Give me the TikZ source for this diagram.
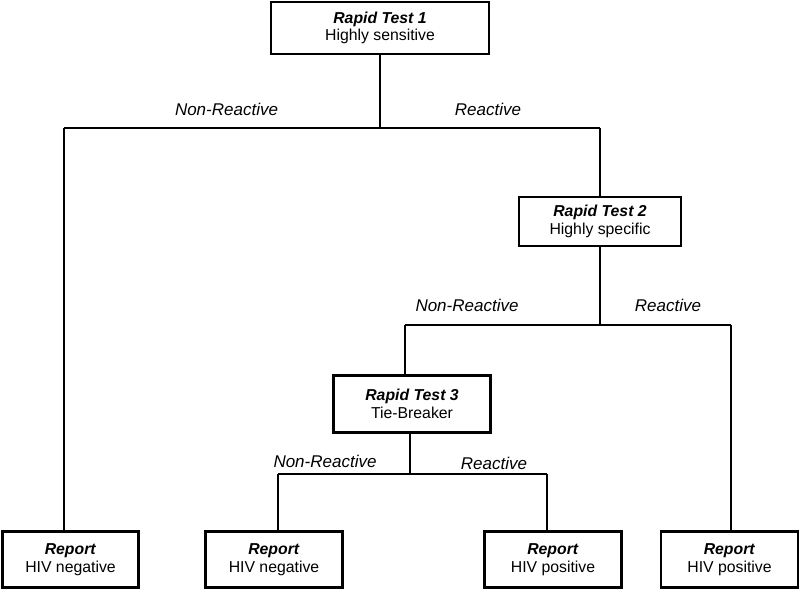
\documentclass[tikz,border=0pt]{standalone}
\usepackage{fontspec}
\setmainfont{Liberation Sans}
\begin{document}
\begin{tikzpicture}[x=1pt,y=-1pt,
  every node/.style={font=\fontsize{15.8}{17.5}\selectfont},
  box/.style={draw,line width=2.8pt,align=center,inner sep=0pt,fill=white},
  conn/.style={line width=2.6pt},
  lab/.style={font=\fontsize{17}{19}\selectfont\itshape,inner sep=0pt}]
\useasboundingbox (0,0) rectangle (800,589);
% boxes
\node[box,minimum width=218pt,minimum height=52pt] (b1) at (380,28) {\textbf{\textit{Rapid Test 1}}\\Highly sensitive};
\node[box,minimum width=162pt,minimum height=49pt] (b2) at (600,221.5) {\textbf{\textit{Rapid Test 2}}\\Highly specific};
\node[box,minimum width=157pt,minimum height=57pt] (b3) at (412,404) {\textbf{\textit{Rapid Test 3}}\\Tie-Breaker};
\node[box,minimum width=136pt,minimum height=56pt] (ra) at (70.5,559.5) {\textbf{\textit{Report}}\\HIV negative};
\node[box,minimum width=137pt,minimum height=56pt] (rb) at (274,559.5) {\textbf{\textit{Report}}\\HIV negative};
\node[box,minimum width=137pt,minimum height=56pt] (rc) at (553,559.5) {\textbf{\textit{Report}}\\HIV positive};
\node[box,minimum width=137pt,minimum height=56pt] (rd) at (729.5,559.5) {\textbf{\textit{Report}}\\HIV positive};
% junctions
\coordinate (j1L) at (64,128);
\coordinate (j1R) at (600,128);
\coordinate (j2L) at (405,325);
\coordinate (j2R) at (731,325);
\coordinate (j3L) at (278,474);
\coordinate (j3R) at (547,474);
% connectors
\draw[conn] (b1.south) -- (b1.south |- j1L);
\draw[conn] (j1L) -- (j1R);
\draw[conn] (j1L) -- (j1L |- ra.north);
\draw[conn] (j1R) -- (b2.north);
\draw[conn] (b2.south) -- (b2.south |- j2L);
\draw[conn] (j2L) -- (j2R);
\draw[conn] (j2L) -- (j2L |- b3.north);
\draw[conn] (j2R) -- (j2R |- rd.north);
\draw[conn] (b3.south -| 410,0) -- (410,474);
\draw[conn] (j3L) -- (j3R);
\draw[conn] (j3L) -- (j3L |- rb.north);
\draw[conn] (j3R) -- (j3R |- rc.north);
% labels
\node[lab] (l1) at (226.5,109) {Non-Reactive};
\node[lab] (l2) at (488,109) {Reactive};
\node[lab] (l3) at (467,305) {Non-Reactive};
\node[lab] (l4) at (668,305) {Reactive};
\node[lab] (l5) at (325,461) {Non-Reactive};
\node[lab] (l6) at (494,463) {Reactive};
\end{tikzpicture}
\end{document}
